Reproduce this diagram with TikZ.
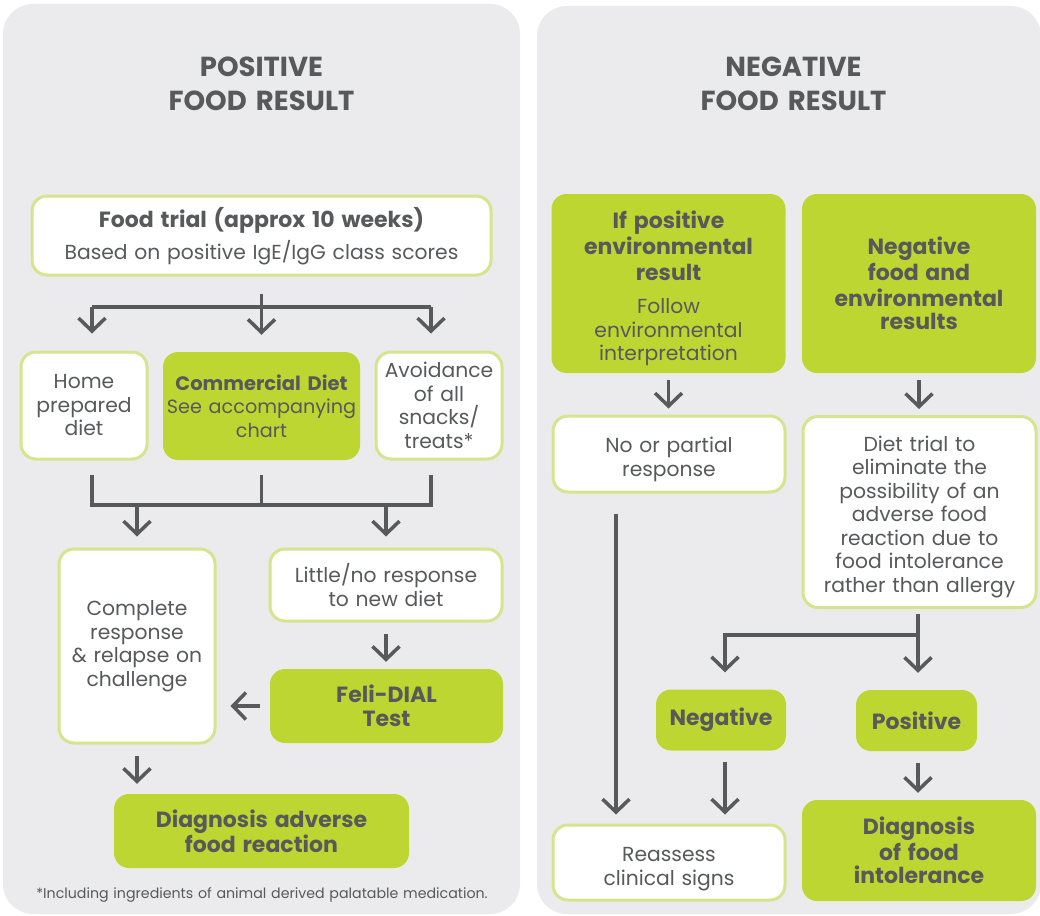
\documentclass[tikz,border=0pt]{standalone}
\usepackage{fontspec}
\setmainfont{Poppins}
\usetikzlibrary{arrows.meta}
\definecolor{tcol}{HTML}{58595B}
\definecolor{gfill}{HTML}{BDD631}
\definecolor{gline}{HTML}{D6E48E}
\definecolor{panel}{HTML}{EBEBED}
\newcommand\TitleF{\fontsize{27.5}{34}\selectfont\bfseries}
\newcommand\BoldF{\fontsize{22}{26}\selectfont\bfseries}
\newcommand\RegF{\fontsize{20.3}{23.5}\selectfont\mdseries}
\newcommand\CommF{\fontsize{19.5}{23.5}\selectfont\bfseries}
\newcommand\CommR{\fontsize{19.2}{23.5}\selectfont\mdseries}
\newcommand\NoteF{\fontsize{14.2}{17}\selectfont\mdseries}
\newcommand\Dn[1]{\rule{0pt}{#1}}
\hyphenpenalty=10000
\exhyphenpenalty=10000
\begin{document}
\begin{tikzpicture}[x=1pt,y=-1pt,
  every node/.style={text=tcol, align=center, inner sep=0pt, font=\RegF},
  wbox/.style={draw=gline, line width=3pt, fill=white, rounded corners=15pt},
  gbox/.style={fill=gfill, rounded corners=15pt},
  ln/.style={draw=tcol, line width=3.5pt},
  arr/.style={ln, -{Straight Barb[length=13pt,width=27pt]}},
]
\useasboundingbox[fill=white] (0,0) rectangle (1040,915);
% panels
\fill[panel, rounded corners=30pt] (3,4) rectangle (520,914);
\fill[panel, rounded corners=30pt] (537,6) rectangle (1041,914);

% titles
\node[font=\TitleF, text width=400pt] (t1) at (261.5,84) {POSITIVE\\FOOD RESULT};
\node[font=\TitleF, text width=400pt] (t2) at (793.5,84) {NEGATIVE\\FOOD RESULT};

% left column nodes
\node[wbox, minimum width=459pt, minimum height=79pt, text width=450pt] (food) at (261.5,235.5)
  {\BoldF\Dn{22pt}Food trial (approx 10 weeks)\\[6pt]\RegF Based on positive IgE/IgG class scores};
\node[wbox, minimum width=126pt, minimum height=107pt, text width=122pt] (home) at (84,405.5)
  {Home\\prepared\\diet};
\node[gbox, minimum width=197pt, minimum height=108pt, text width=197pt] (comm) at (261.5,406)
  {\CommF Commercial Diet\\\CommR See accompanying\\chart};
\node[wbox, minimum width=126pt, minimum height=107pt, text width=122pt] (avoid) at (439,405.5)
  {Avoidance\\of all\\snacks/\\treats*};
\node[wbox, minimum width=156pt, minimum height=194pt, text width=150pt] (complete) at (137,646)
  {Complete\\response\\\& relapse on\\challenge};
\node[wbox, minimum width=232pt, minimum height=72pt, text width=228pt] (little) at (386,585)
  {Little/no response\\to new diet};
\node[gbox, minimum width=233pt, minimum height=74pt, text width=228pt] (feli) at (386.5,706)
  {\fontsize{22}{24}\selectfont\bfseries Feli-DIAL\\Test};
\node[gbox, minimum width=295pt, minimum height=74pt, text width=290pt] (diag) at (261.5,831)
  {\fontsize{22}{27}\selectfont\bfseries Diagnosis adverse\\food reaction};
\node[font=\NoteF, text width=500pt] (note) at (262,895)
  {*Including ingredients of animal derived palatable medication.};

% right column nodes
\node[gbox, minimum width=234pt, minimum height=179pt, text width=230pt] (ifpos) at (668.5,283.5)
  {\BoldF\Dn{27pt}If positive\\environmental\\result\\[10pt]\RegF Follow\\environmental\\interpretation};
\node[gbox, minimum width=234pt, minimum height=179pt, text width=230pt] (negfood) at (919,283.5)
  {\BoldF Negative\\food and\\environmental\\results};
\node[wbox, minimum width=232pt, minimum height=76pt, text width=228pt] (nopart) at (669,454)
  {\Dn{26pt}No or partial\\response};
\node[wbox, minimum width=233pt, minimum height=191pt, text width=228pt] (diettrial) at (919.5,512)
  {\Dn{25pt}Diet trial to\\eliminate the\\possibility of an\\adverse food\\reaction due to\\food intolerance\\rather than allergy};
\node[gbox, minimum width=130pt, minimum height=61pt, text width=126pt] (neg) at (721,720)
  {\BoldF Negative};
\node[gbox, minimum width=121pt, minimum height=61pt, text width=118pt] (pos) at (916.5,720.5)
  {\BoldF Positive};
\node[wbox, minimum width=232pt, minimum height=75pt, text width=228pt] (reassess) at (669,862.5)
  {\Dn{27pt}Reassess\\clinical signs};
\node[gbox, minimum width=234pt, minimum height=101pt, text width=230pt] (diagint) at (919,850.5)
  {\BoldF Diagnosis\\of food\\intolerance};

% left connectors
\coordinate (bL) at (92,307);
\coordinate (bR) at (431,307);
\coordinate (bM) at (261.5,307);
\draw[ln] ([yshift=-17pt]food.south) -- (bM);
\draw[ln] (bL) -- (bR);
\draw[arr, shorten >=17pt] (bL) -- (bL |- home.north);
\draw[arr, shorten >=17pt] (bM) -- (comm.north);
\draw[arr, shorten >=17pt] (bR) -- (bR |- avoid.north);

\coordinate (mL) at (137,505);
\coordinate (mR) at (386,505);
\draw[ln] ([xshift=8pt,yshift=-14pt]home.south) |- ([xshift=-8pt]avoid.south |- mL) -- ([xshift=-8pt,yshift=-14pt]avoid.south);
\draw[ln] ([yshift=-15pt]comm.south) -- (comm.south |- mL);
\draw[arr, shorten >=11pt] (mL) -- (complete.north);
\draw[arr, shorten >=11pt] (mR) -- (mR |- little.north);
\draw[arr, shorten <=11pt, shorten >=7pt] (little.south) -- (little.south |- feli.north);
\draw[arr, shorten <=10pt, shorten >=14pt] (feli.west) -- (feli.west -| complete.east);
\draw[arr, shorten <=11pt, shorten >=10pt] (complete.south) -- (complete.south |- diag.north);

% right connectors
\draw[arr, shorten <=7pt, shorten >=6pt] (ifpos.south) -- (ifpos.south |- nopart.north);
\draw[arr, shorten <=7pt, shorten >=6pt] (negfood.south) -- (negfood.south |- diettrial.north);
\draw[arr, shorten <=20pt, shorten >=9pt] ([xshift=-53pt]nopart.south) -- ([xshift=-53pt]reassess.north);
\coordinate (k) at (918,635);
\coordinate (kL) at (725,635);
\draw[arr, shorten <=5pt, shorten >=17pt] (diettrial.south -| k) -- (k |- pos.north);
\draw[arr, shorten >=17pt] (k) -- (kL) -- (kL |- neg.north);
\draw[arr, shorten <=11pt, shorten >=9pt] (kL |- neg.south) -- (kL |- reassess.north);
\draw[arr, shorten <=12pt, shorten >=7pt] (k |- pos.south) -- (k |- diagint.north);
\end{tikzpicture}
\end{document}
